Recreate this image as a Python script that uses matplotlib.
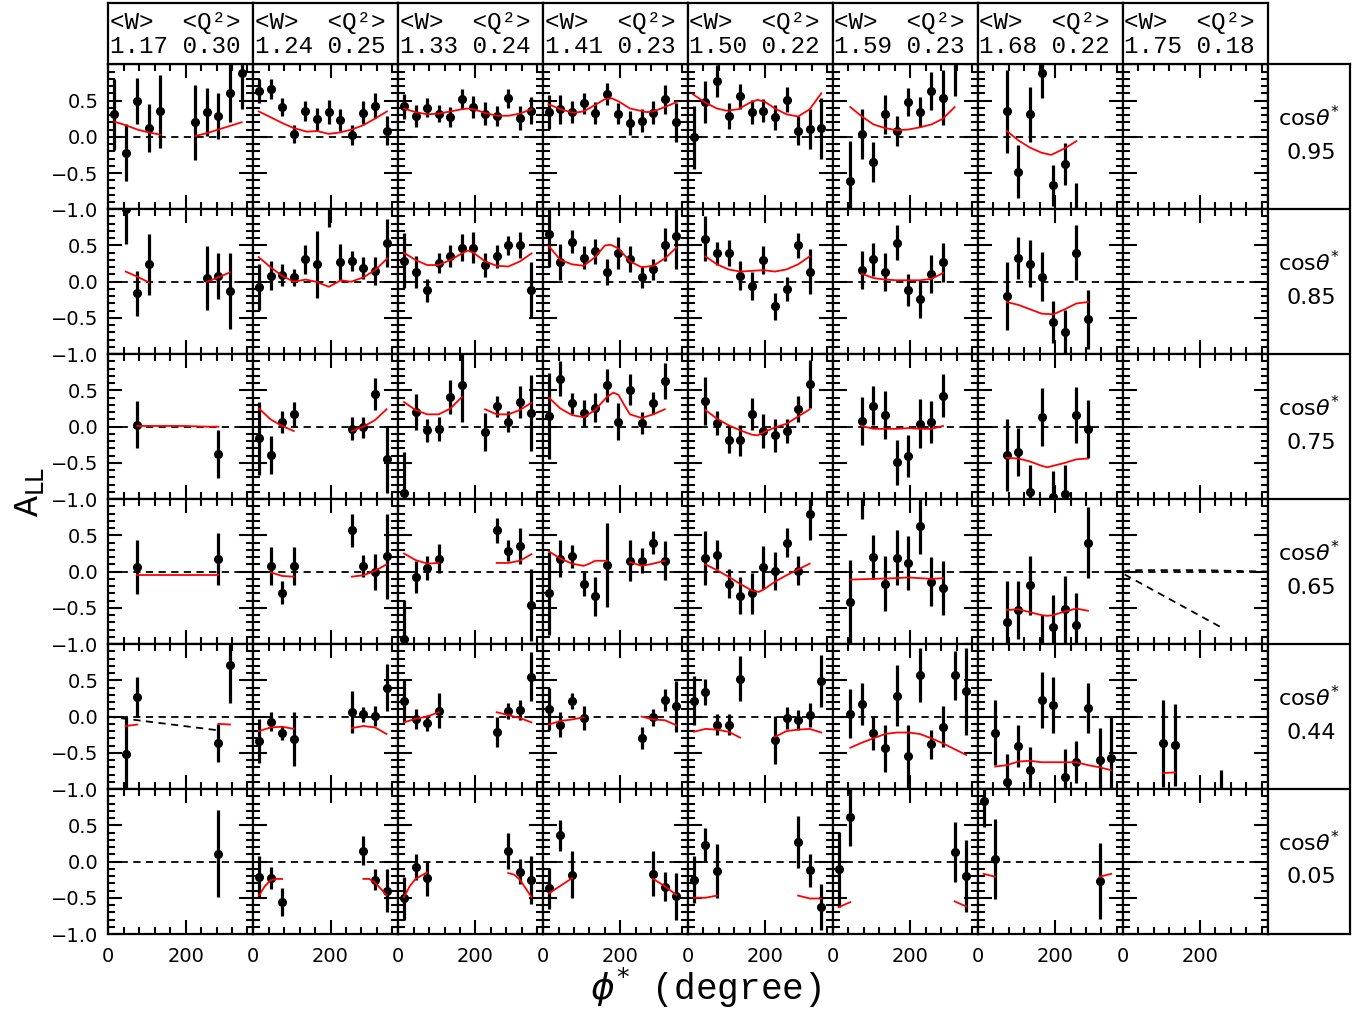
import numpy as np
import matplotlib.pyplot as plt
from matplotlib.ticker import MultipleLocator

# header / row labels
W_mean = ['1.17', '1.24', '1.33', '1.41', '1.50', '1.59', '1.68', '1.75']
Q2_mean = ['0.30', '0.25', '0.24', '0.23', '0.22', '0.23', '0.22', '0.18']
cos_theta = ['0.95', '0.85', '0.75', '0.65', '0.44', '0.05']

# data points: one list per W bin, entries (phi*, A_LL, error)
pts_095 = [
    [(15, 0.31, 0.49), (45, -0.22, 0.39), (75, 0.49, 0.32), (105, 0.12, 0.33), (135, 0.35, 0.5),
     (225, 0.20, 0.52), (255, 0.34, 0.33), (285, 0.29, 0.32), (315, 0.60, 0.4), (345, 0.88, 0.5)],
    [(15, 0.63, 0.17), (45, 0.66, 0.14), (75, 0.41, 0.13), (105, 0.04, 0.12), (135, 0.36, 0.14),
     (165, 0.24, 0.16), (195, 0.34, 0.17), (225, 0.23, 0.15), (255, 0.02, 0.14), (285, 0.33, 0.16),
     (315, 0.43, 0.17), (345, 0.08, 0.2)],
    [(15, 0.42, 0.17), (45, 0.29, 0.15), (75, 0.40, 0.13), (105, 0.32, 0.12), (135, 0.27, 0.14),
     (165, 0.52, 0.14), (195, 0.41, 0.15), (225, 0.32, 0.16), (255, 0.29, 0.14), (285, 0.53, 0.13),
     (315, 0.26, 0.16), (345, 0.36, 0.19)],
    [(15, 0.34, 0.23), (45, 0.38, 0.2), (75, 0.34, 0.15), (105, 0.46, 0.15), (135, 0.33, 0.15),
     (165, 0.59, 0.15), (195, 0.32, 0.15), (225, 0.19, 0.17), (255, 0.22, 0.16), (285, 0.33, 0.16),
     (315, 0.52, 0.2), (345, 0.2, 0.27)],
    [(15, -0.01, 0.43), (45, 0.48, 0.29), (75, 0.77, 0.22), (105, 0.29, 0.18), (135, 0.56, 0.17),
     (165, 0.34, 0.17), (195, 0.36, 0.16), (225, 0.27, 0.17), (255, 0.51, 0.17), (285, 0.08, 0.2),
     (315, 0.11, 0.28), (345, 0.12, 0.42)],
    [(45, -0.61, 0.55), (75, 0.04, 0.34), (105, -0.35, 0.28), (135, 0.31, 0.27), (165, 0.08, 0.21),
     (195, 0.48, 0.19), (225, 0.34, 0.21), (255, 0.63, 0.26), (285, 0.54, 0.38), (315, 1.08, 0.52)],
    [(75, 0.35, 0.57), (105, -0.48, 0.37), (135, 0.31, 0.38), (165, 0.88, 0.35), (195, -0.67, 0.28),
     (225, -0.37, 0.29), (255, -1.1, 0.46)],
    [],
]
pts_085 = [
    [(45, 1.0, 0.48), (75, -0.16, 0.31), (105, 0.24, 0.42), (255, 0.05, 0.44), (285, 0.08, 0.32),
     (315, -0.13, 0.52)],
    [(15, -0.07, 0.32), (45, 0.08, 0.2), (75, 0.09, 0.15), (105, 0.06, 0.12), (135, 0.31, 0.2),
     (165, 0.24, 0.46), (195, 1.12, 0.36), (225, 0.27, 0.25), (255, 0.29, 0.14), (285, 0.19, 0.15),
     (315, 0.15, 0.19), (345, 0.54, 0.33)],
    [(15, 0.29, 0.38), (45, 0.13, 0.22), (75, -0.12, 0.16), (105, 0.26, 0.14), (135, 0.35, 0.15),
     (165, 0.47, 0.19), (195, 0.47, 0.21), (225, 0.23, 0.17), (255, 0.35, 0.16), (285, 0.5, 0.13),
     (315, 0.51, 0.18), (345, -0.11, 0.38)],
    [(15, 0.66, 0.46), (45, 0.27, 0.25), (75, 0.55, 0.16), (105, 0.33, 0.16), (135, 0.42, 0.17),
     (165, 0.14, 0.18), (195, 0.4, 0.22), (225, 0.31, 0.18), (255, 0.07, 0.15), (285, 0.17, 0.15),
     (315, 0.51, 0.23), (345, 0.63, 0.46)],
    [(45, 0.59, 0.31), (75, 0.39, 0.16), (105, 0.4, 0.18), (135, 0.08, 0.2), (165, -0.06, 0.19),
     (195, 0.3, 0.19), (225, -0.34, 0.19), (255, -0.1, 0.17), (285, 0.5, 0.17), (315, 0.14, 0.31)],
    [(75, 0.16, 0.26), (105, 0.31, 0.23), (135, 0.13, 0.26), (165, 0.54, 0.24), (195, -0.12, 0.22),
     (225, -0.24, 0.26), (255, 0.11, 0.26), (285, 0.27, 0.27)],
    [(75, -0.2, 0.47), (105, 0.33, 0.29), (135, 0.25, 0.32), (165, 0.07, 0.34), (195, -0.55, 0.29),
     (225, -0.69, 0.3), (255, 0.4, 0.38), (285, -0.52, 0.41)],
    [],
]
pts_075 = [
    [(75, 0.03, 0.33), (285, -0.38, 0.33)],
    [(15, -0.16, 0.5), (45, -0.39, 0.26), (75, 0.06, 0.15), (105, 0.17, 0.17), (255, -0.03, 0.16),
     (285, -0.01, 0.14), (315, 0.45, 0.22), (345, -0.45, 0.46)],
    [(15, -0.92, 0.57), (45, 0.2, 0.25), (75, -0.05, 0.16), (105, -0.03, 0.17), (135, 0.41, 0.24),
     (165, 0.57, 0.5), (225, -0.07, 0.26), (255, 0.28, 0.14), (285, 0.07, 0.14), (315, 0.34, 0.22),
     (345, 0.19, 0.52)],
    [(15, 0.15, 0.59), (45, 0.66, 0.24), (75, 0.32, 0.15), (105, 0.19, 0.18), (135, 0.26, 0.2),
     (165, 0.57, 0.23), (195, 0.07, 0.26), (225, 0.51, 0.21), (255, 0.05, 0.15), (285, 0.33, 0.15),
     (315, 0.63, 0.25)],
    [(45, 0.36, 0.33), (75, 0.05, 0.17), (105, -0.18, 0.19), (135, -0.19, 0.22), (165, 0.18, 0.22),
     (195, -0.06, 0.23), (225, -0.12, 0.23), (255, -0.06, 0.17), (285, 0.24, 0.18), (315, 0.59, 0.33)],
    [(75, 0.08, 0.33), (105, 0.29, 0.27), (135, 0.16, 0.33), (165, -0.49, 0.31), (195, -0.41, 0.29),
     (225, 0.04, 0.34), (255, 0.06, 0.29), (285, 0.43, 0.29)],
    [(75, -0.39, 0.5), (105, -0.35, 0.33), (135, -0.9, 0.37), (165, 0.14, 0.4), (195, -0.97, 0.36),
     (225, -0.93, 0.4), (255, 0.16, 0.39), (285, -0.03, 0.4)],
    [],
]
pts_065 = [
    [(75, 0.06, 0.37), (285, 0.17, 0.36)],
    [(45, 0.08, 0.26), (75, -0.29, 0.16), (105, 0.08, 0.26), (255, 0.57, 0.23), (285, 0.08, 0.15),
     (315, 0.0, 0.25), (345, 0.21, 0.59)],
    [(15, -0.93, 0.54), (45, -0.08, 0.22), (75, 0.05, 0.16), (105, 0.18, 0.2), (255, 0.57, 0.17),
     (285, 0.29, 0.15), (315, 0.35, 0.25), (345, -0.46, 0.5)],
    [(15, -0.3, 0.57), (45, 0.18, 0.26), (75, 0.21, 0.16), (105, -0.17, 0.17), (135, -0.34, 0.27),
     (165, 0.09, 0.58), (225, 0.15, 0.28), (255, 0.15, 0.17), (285, 0.4, 0.16), (315, 0.15, 0.27)],
    [(45, 0.19, 0.37), (75, 0.23, 0.2), (105, -0.17, 0.2), (135, -0.33, 0.25), (165, -0.3, 0.28),
     (195, 0.06, 0.3), (225, 0.01, 0.26), (255, 0.4, 0.2), (285, 0.01, 0.2), (315, 0.8, 0.37)],
    [(45, -0.42, 0.58), (75, 1.12, 0.4), (105, 0.2, 0.3), (135, -0.17, 0.38), (165, 0.19, 0.38),
     (195, 0.12, 0.37), (225, 0.63, 0.38), (255, -0.14, 0.34), (285, -0.23, 0.37)],
    [(75, -0.69, 0.56), (105, -0.53, 0.4), (135, -0.19, 0.41), (165, -1.05, 0.45), (195, -0.76, 0.44),
     (225, -0.52, 0.46), (255, -0.73, 0.43), (285, 0.4, 0.49)],
    [],
]
pts_044 = [
    [(45, -0.51, 0.5), (75, 0.27, 0.28), (285, -0.36, 0.26), (315, 0.71, 0.52)],
    [(15, -0.34, 0.3), (45, -0.07, 0.13), (75, -0.23, 0.1), (105, -0.31, 0.37), (255, 0.06, 0.29),
     (285, 0.03, 0.1), (315, 0.01, 0.14), (345, 0.4, 0.32)],
    [(15, 0.21, 0.29), (45, -0.03, 0.14), (75, -0.09, 0.11), (105, 0.08, 0.24), (255, -0.21, 0.21),
     (285, 0.08, 0.11), (315, 0.09, 0.14), (345, 0.55, 0.34)],
    [(15, 0.11, 0.29), (45, -0.11, 0.17), (75, 0.22, 0.11), (105, -0.02, 0.17), (255, -0.3, 0.15),
     (285, -0.01, 0.12), (315, 0.23, 0.15), (345, 0.14, 0.35)],
    [(15, 0.22, 0.34), (45, 0.34, 0.18), (75, -0.11, 0.14), (105, -0.11, 0.15), (135, 0.52, 0.31),
     (225, -0.32, 0.33), (255, -0.02, 0.15), (285, -0.05, 0.14), (315, 0.02, 0.17), (345, 0.49, 0.36)],
    [(45, 0.04, 0.34), (75, 0.18, 0.29), (105, -0.23, 0.23), (135, -0.44, 0.33), (165, 0.29, 0.42),
     (195, -0.55, 0.43), (225, 0.57, 0.37), (255, -0.38, 0.2), (285, -0.14, 0.28), (315, 0.57, 0.34),
     (345, 0.35, 0.6)],
    [(45, -0.22, 0.45), (75, -0.9, 0.38), (105, -0.4, 0.29), (135, -0.74, 0.32), (165, 0.23, 0.39),
     (195, 0.16, 0.39), (225, -0.84, 0.39), (255, -0.63, 0.29), (285, 0.12, 0.35), (315, -0.6, 0.44),
     (345, -0.57, 0.58)],
    [(105, -0.37, 0.6), (135, -0.39, 0.57), (255, -1.1, 0.36)],
]
pts_005 = [
    [(285, 0.11, 0.6)],
    [(15, -0.21, 0.28), (45, -0.23, 0.15), (75, -0.56, 0.19), (285, 0.15, 0.2), (315, -0.25, 0.14),
     (345, -0.4, 0.3)],
    [(15, -0.51, 0.29), (45, -0.08, 0.18), (75, -0.23, 0.24), (285, 0.15, 0.25), (315, -0.14, 0.17),
     (345, -0.26, 0.33)],
    [(15, -0.37, 0.28), (45, 0.36, 0.21), (75, -0.18, 0.32), (285, -0.17, 0.31), (315, -0.35, 0.2),
     (345, -0.48, 0.32)],
    [(15, -0.25, 0.32), (45, 0.23, 0.23), (75, -0.13, 0.37), (285, 0.27, 0.36), (315, -0.12, 0.23),
     (345, -0.63, 0.32)],
    [(15, -0.11, 0.52), (45, 0.61, 0.4), (315, 0.13, 0.41), (345, -0.2, 0.5)],
    [(15, 0.83, 0.35), (45, 0.03, 0.55), (315, -0.27, 0.52)],
    [],
]

# model curves (red): segments of (phi*, A_LL)
fit_095 = [
    [[(15, 0.21), (45, 0.16), (75, 0.1), (105, 0.06), (135, 0.03)],
     [(225, 0.01), (255, 0.05), (285, 0.1), (315, 0.15), (345, 0.2)]],
    [[(14, 0.35), (45, 0.27), (75, 0.19), (105, 0.12), (139, 0.07), (165, 0.08), (195, 0.04),
      (225, 0.06), (255, 0.1), (285, 0.16), (315, 0.25), (346, 0.35)]],
    [[(15, 0.39), (45, 0.34), (75, 0.31), (105, 0.32), (135, 0.35), (165, 0.38), (180, 0.39),
      (195, 0.38), (225, 0.33), (255, 0.29), (285, 0.29), (315, 0.32), (345, 0.38)]],
    [[(14, 0.45), (45, 0.38), (78, 0.33), (105, 0.35), (135, 0.44), (160, 0.52), (178, 0.53),
      (195, 0.49), (225, 0.39), (268, 0.34), (285, 0.35), (315, 0.41), (346, 0.48)]],
    [[(12, 0.59), (45, 0.47), (75, 0.39), (100, 0.36), (130, 0.38), (160, 0.47), (180, 0.51),
      (200, 0.48), (225, 0.39), (255, 0.31), (285, 0.28), (315, 0.38), (345, 0.6)]],
    [[(45, 0.41), (75, 0.28), (105, 0.17), (135, 0.12), (165, 0.09), (195, 0.1), (225, 0.13),
      (255, 0.17), (285, 0.25), (315, 0.41)]],
    [[(75, 0.08), (105, -0.05), (135, -0.15), (165, -0.22), (190, -0.25), (225, -0.16), (255, -0.06)]],
    [],
]
fit_085 = [
    [[(45, 0.14), (75, 0.07), (105, -0.01)], [(255, 0.0), (285, 0.06), (315, 0.13)]],
    [[(14, 0.34), (45, 0.2), (75, 0.08), (105, 0.0), (136, 0.03), (162, 0.0), (196, -0.07),
      (227, 0.02), (253, 0.0), (285, 0.06), (315, 0.16), (347, 0.32)]],
    [[(15, 0.4), (45, 0.3), (75, 0.23), (105, 0.23), (135, 0.3), (165, 0.39), (180, 0.43),
      (195, 0.4), (225, 0.28), (255, 0.22), (285, 0.21), (315, 0.28), (345, 0.39)]],
    [[(15, 0.49), (45, 0.3), (75, 0.24), (105, 0.22), (135, 0.34), (160, 0.5), (175, 0.51),
      (195, 0.46), (225, 0.28), (255, 0.2), (285, 0.22), (315, 0.32), (345, 0.47)]],
    [[(45, 0.35), (75, 0.24), (105, 0.17), (135, 0.14), (165, 0.15), (195, 0.16), (225, 0.14),
      (255, 0.17), (285, 0.24), (315, 0.35)]],
    [[(75, 0.11), (105, 0.05), (135, 0.03), (165, 0.02), (195, 0.02), (225, 0.02), (255, 0.04),
      (285, 0.12)]],
    [[(75, -0.28), (105, -0.32), (135, -0.38), (165, -0.44), (195, -0.45), (225, -0.38),
      (255, -0.3), (285, -0.28)]],
    [],
]
fit_075 = [
    [[(75, 0.01), (135, 0.01), (195, 0.01), (255, 0.0), (285, 0.0)]],
    [[(15, 0.25), (45, 0.1), (75, 0.01), (105, -0.06)], [(255, -0.06), (285, 0.0), (315, 0.09), (345, 0.24)]],
    [[(15, 0.34), (45, 0.23), (75, 0.17), (105, 0.17), (135, 0.25), (165, 0.41)],
     [(225, 0.24), (255, 0.17), (285, 0.17), (315, 0.23), (345, 0.33)]],
    [[(15, 0.4), (45, 0.25), (75, 0.16), (105, 0.13), (135, 0.23), (165, 0.41), (182, 0.47),
      (195, 0.44), (210, 0.3), (225, 0.17), (255, 0.12), (285, 0.17), (315, 0.24)]],
    [[(45, 0.23), (75, 0.11), (105, 0.02), (135, -0.05), (165, -0.11), (180, -0.12), (195, -0.08),
      (225, -0.01), (255, 0.04), (285, 0.14), (315, 0.24)]],
    [[(75, 0.01), (105, -0.03), (135, -0.03), (165, -0.03), (195, -0.02), (225, -0.03), (255, -0.03),
      (285, 0.01)]],
    [[(75, -0.43), (105, -0.44), (135, -0.48), (165, -0.54), (180, -0.56), (195, -0.54), (225, -0.5),
      (255, -0.45), (285, -0.44)]],
    [],
]
fit_065 = [
    [[(75, -0.04), (285, -0.04)]],
    [[(45, -0.01), (75, -0.06), (105, -0.07)], [(255, -0.07), (285, -0.05), (315, 0.01), (345, 0.1)]],
    [[(15, 0.25), (45, 0.16), (75, 0.11), (105, 0.12)], [(255, 0.12), (285, 0.12), (315, 0.15), (345, 0.24)]],
    [[(15, 0.28), (45, 0.18), (75, 0.11), (105, 0.08), (120, 0.11), (135, 0.15), (165, 0.15)],
     [(225, 0.13), (255, 0.08), (285, 0.11), (315, 0.15)]],
    [[(45, 0.1), (75, 0.02), (105, -0.07), (135, -0.17), (165, -0.26), (183, -0.28), (195, -0.25),
      (225, -0.14), (255, -0.05), (285, 0.03), (315, 0.11)]],
    [[(45, -0.11), (105, -0.1), (165, -0.09), (195, -0.08), (225, -0.09), (255, -0.1), (285, -0.09)]],
    [[(75, -0.53), (105, -0.52), (135, -0.56), (165, -0.6), (180, -0.61), (195, -0.6), (225, -0.55),
      (255, -0.51), (285, -0.54)]],
    [],
]
fit_044 = [
    [[(45, -0.13), (75, -0.11)], [(285, -0.1), (315, -0.11)]],
    [[(15, -0.2), (45, -0.15), (75, -0.14), (105, -0.17)], [(255, -0.16), (285, -0.13), (315, -0.15), (345, -0.24)]],
    [[(15, -0.08), (45, -0.03), (75, 0.0), (105, 0.06)], [(255, 0.06), (285, 0.02), (315, -0.02), (345, -0.08)]],
    [[(15, -0.11), (45, -0.06), (75, -0.04), (105, -0.01)], [(255, 0.0), (285, -0.04), (315, -0.05), (345, -0.12)]],
    [[(15, -0.21), (45, -0.17), (75, -0.18), (105, -0.21), (135, -0.29)],
     [(225, -0.28), (255, -0.2), (285, -0.18), (315, -0.17), (345, -0.22)]],
    [[(45, -0.43), (75, -0.36), (105, -0.3), (135, -0.24), (165, -0.22), (195, -0.22), (225, -0.24),
      (255, -0.3), (285, -0.37), (315, -0.45), (345, -0.53)]],
    [[(45, -0.69), (75, -0.67), (105, -0.62), (135, -0.61), (165, -0.63), (195, -0.63), (225, -0.63),
      (255, -0.63), (285, -0.67), (315, -0.7), (345, -0.74)]],
    [[(105, -0.78), (135, -0.77)]],
]
fit_005 = [
    [],
    [[(15, -0.47), (30, -0.34), (45, -0.26), (60, -0.24), (75, -0.24)],
     [(285, -0.24), (300, -0.24), (315, -0.29), (345, -0.46)]],
    [[(15, -0.49), (30, -0.34), (45, -0.24), (75, -0.15)],
     [(285, -0.16), (300, -0.18), (315, -0.25), (345, -0.49)]],
    [[(15, -0.44), (75, -0.23)], [(285, -0.24), (315, -0.34), (345, -0.46)]],
    [[(15, -0.5), (45, -0.5), (75, -0.47)], [(285, -0.47), (315, -0.51), (345, -0.51)]],
    [[(15, -0.63), (45, -0.56)], [(315, -0.55), (345, -0.62)]],
    [[(15, -0.17), (45, -0.21)], [(315, -0.21), (345, -0.17)]],
    [],
]

# extra black dashed curves: (row, col, points)
dash_extra = [
    (3, 7, [(0, 0.0), (20, 0.02), (200, 0.02), (375, 0.0)]),
    (3, 7, [(5, -0.04), (255, -0.77)]),
    (4, 0, [(0, 0.0), (75, -0.05), (285, -0.19)]),
]

points = [pts_095, pts_085, pts_075, pts_065, pts_044, pts_005]
fits = [fit_095, fit_085, fit_075, fit_065, fit_044, fit_005]

fig = plt.figure(figsize=(13.72, 10.19), dpi=100)
FW, FH = 1372.0, 1019.0
left0, top0 = 108.3, 64.3
pw, ph = 144.92, 144.95


def add_box(x, y, w, h):
    return fig.add_axes([x / FW, 1 - (y + h) / FH, w / FW, h / FH])


for r in range(6):
    for c in range(8):
        ax = add_box(left0 + c * pw, top0 + r * ph, pw, ph)
        ax.set_xlim(0, 375)
        ax.set_ylim(-1, 1)
        ax.axhline(0, color='k', lw=1.3, ls=(0, (4, 3)), zorder=1)
        for rr, cc, seg in dash_extra:
            if rr == r and cc == c:
                dx, dy = zip(*seg)
                ax.plot(dx, dy, color='k', lw=1.3, ls=(0, (4, 3)), zorder=1)
        if points[r][c]:
            px, py, pe = zip(*points[r][c])
            ax.errorbar(px, py, yerr=pe, fmt='o', color='k', ms=5.5,
                        elinewidth=2.3, capsize=0, zorder=2)
        for seg in fits[r][c]:
            fx, fy = zip(*seg)
            ax.plot(fx, fy, color='red', lw=1.3, zorder=3)

        ax.xaxis.set_major_locator(MultipleLocator(200))
        ax.xaxis.set_minor_locator(MultipleLocator(40))
        ax.yaxis.set_major_locator(MultipleLocator(0.5))
        ax.yaxis.set_minor_locator(MultipleLocator(0.1))
        ax.tick_params(which='both', direction='in', top=True, right=True, width=1.5,
                       labelsize=14)
        ax.tick_params(which='major', length=10)
        ax.tick_params(which='minor', length=5)
        for s in ax.spines.values():
            s.set_linewidth(1.6)

        if c == 0:
            ax.set_yticks([-1, -0.5, 0, 0.5, 1])
            ax.set_yticklabels(['\u22121.0', '\u22120.5', '0.0', '0.5', ''])
            ax.tick_params(axis='y', pad=7)
        else:
            ax.tick_params(labelleft=False)
        if r == 5:
            ax.set_xticks([0, 200])
            ax.set_xticklabels(['0', '200'])
            ax.tick_params(axis='x', pad=9)
        else:
            ax.tick_params(labelbottom=False)

# header boxes with <W> and <Q^2>
for c in range(8):
    hx = add_box(left0 + c * pw, 3.3, pw, 61.0)
    hx.set_xticks([])
    hx.set_yticks([])
    for s in hx.spines.values():
        s.set_linewidth(1.6)
    hx.text(0.01, 0.68, '<W>  <Q\u00b2>', transform=hx.transAxes, ha='left', va='center',
            fontsize=17.5, family='Liberation Mono')
    hx.text(0.01, 0.29, W_mean[c] + ' ' + Q2_mean[c], transform=hx.transAxes, ha='left',
            va='center', fontsize=17.5, family='Liberation Mono')

# right column with cos(theta*) bins
rb = add_box(left0 + 8 * pw, top0, 1350 - (left0 + 8 * pw), 6 * ph)
rb.set_xlim(0, 1)
rb.set_ylim(6, 0)
rb.set_xticks([])
rb.set_yticks([])
for s in rb.spines.values():
    s.set_linewidth(1.6)
for r in range(6):
    if r > 0:
        rb.axhline(r, color='k', lw=1.6)
    rb.text(0.5, r + 0.37, r'cos$\theta^{*}$', ha='center', va='center', fontsize=16)
    rb.text(0.53, r + 0.61, cos_theta[r], ha='center', va='center', fontsize=16)

fig.text(29 / FW, 1 - 492 / FH, r'A$_{\rm LL}$', rotation=90, ha='center', va='center',
         fontsize=25, family='Liberation Mono')
fig.text(706 / FW, 1 - 988 / FH, r'$\phi^{*}$ (degree)', ha='center', va='center',
         fontsize=26, family='Liberation Mono')

fig.savefig('out.png', dpi=100)
